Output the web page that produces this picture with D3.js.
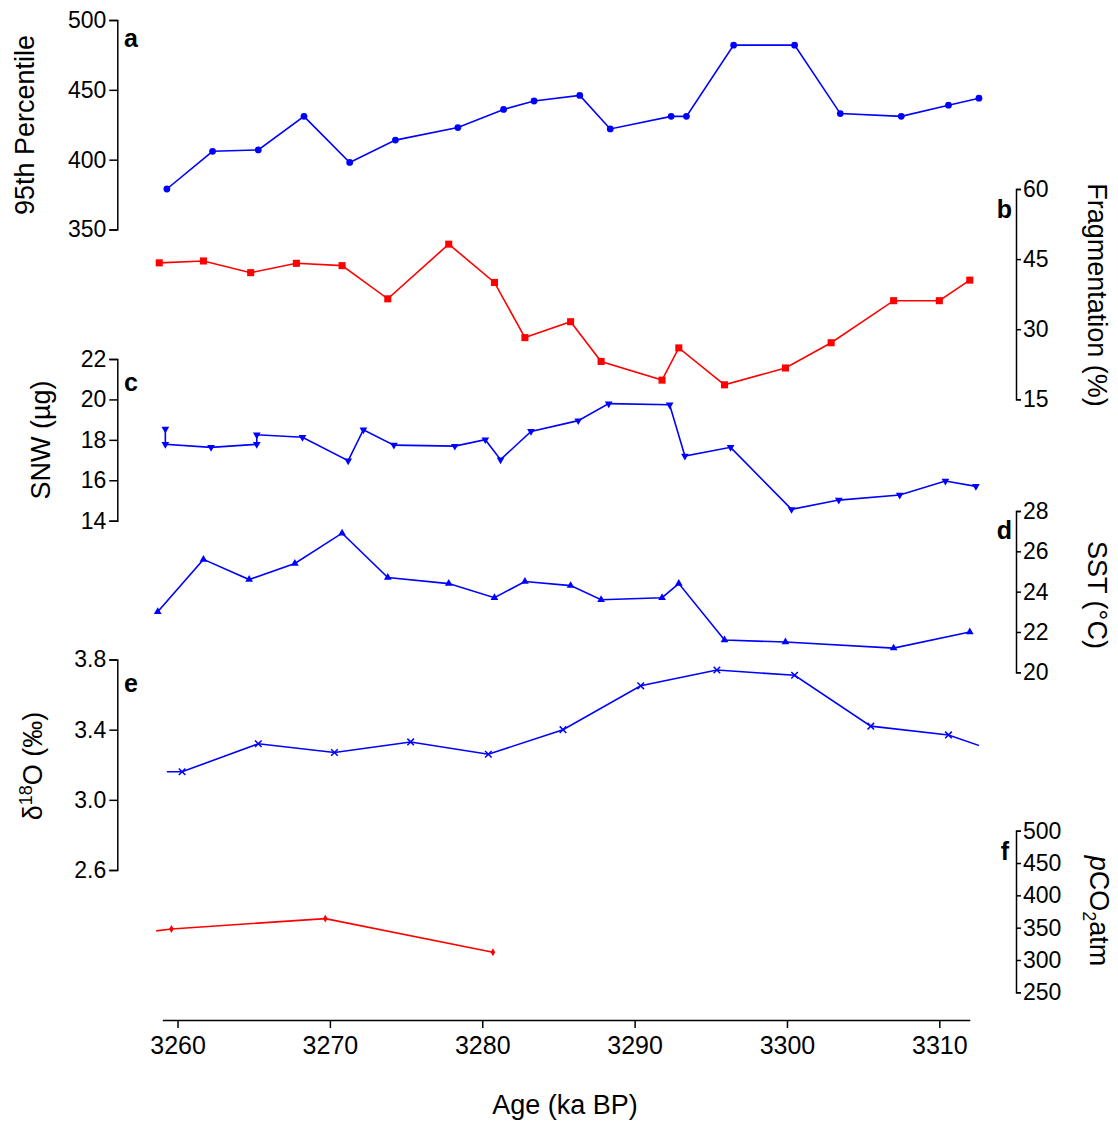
<!DOCTYPE html>
<html>
<head>
<meta charset="utf-8">
<script src="https://cdn.jsdelivr.net/npm/d3@7.9.0/dist/d3.min.js"></script>
<style>
  body { margin: 0; background: #fff; }
  svg { display: block; }
  text { font-family: "Liberation Sans", Arial, sans-serif; fill: #000; }
</style>
</head>
<body>
<svg id="chart" width="1118" height="1122"></svg>
<script>
// a: 95th percentile
const ageA = [3259.3, 3262.3, 3265.3, 3268.3, 3271.3, 3274.3, 3278.4, 3281.4, 3283.4, 3286.4,
              3288.4, 3292.4, 3293.4, 3296.5, 3300.5, 3303.5, 3307.5, 3310.6, 3312.6];
const pct95 = [379, 406, 407, 431, 398, 414, 423, 436, 442, 446, 422, 431, 431, 482, 482, 433, 431, 439, 444];

// b: fragmentation (%)
const ageB = [3258.8, 3261.7, 3264.8, 3267.8, 3270.8, 3273.8, 3277.8, 3280.8, 3282.8, 3285.8,
              3287.8, 3291.8, 3292.9, 3295.9, 3299.9, 3302.9, 3307.0, 3310.0, 3312.0];
const fragmentation = [44.2, 44.6, 42.1, 44.1, 43.6, 36.5, 48.2, 40.0, 28.2, 31.6,
                       23.1, 19.1, 26.0, 18.1, 21.7, 27.1, 36.1, 36.1, 40.5];

// c: SNW (µg)
const ageC = [3259.2, 3259.2, 3262.2, 3265.2, 3265.2, 3268.2, 3271.2, 3272.2, 3274.2, 3278.2, 3280.2, 3281.2,
              3283.2, 3286.3, 3288.3, 3292.3, 3293.3, 3296.3, 3300.3, 3303.4, 3307.4, 3310.4, 3312.4];
const snw = [18.54, 17.78, 17.63, 17.78, 18.25, 18.13, 16.97, 18.50, 17.74, 17.69, 18.01, 17.02,
             18.42, 18.95, 19.79, 19.74, 17.20, 17.63, 14.56, 15.02, 15.27, 15.96, 15.70];

// d: SST (°C)
const ageD = [3258.7, 3261.7, 3264.7, 3267.7, 3270.8, 3273.8, 3277.8, 3280.8, 3282.8, 3285.8,
              3287.8, 3291.8, 3292.9, 3295.9, 3299.9, 3307.0, 3312.0];
const sst = [23.0, 25.6, 24.6, 25.4, 26.9, 24.7, 24.4, 23.7, 24.5, 24.3, 23.6, 23.7, 24.4, 21.6, 21.5, 21.2, 22.0];

// e: d18O (first and last points lie outside the plotted window)
const ageE = [3255.0, 3260.3, 3265.3, 3270.3, 3275.3, 3280.4, 3285.3, 3290.4, 3295.4, 3300.5, 3305.5, 3310.6, 3315.6];
const d18o = [3.16, 3.16, 3.32, 3.27, 3.33, 3.26, 3.40, 3.65, 3.74, 3.71, 3.42, 3.37, 3.22];

// f: pCO2 atm (first point outside the window)
const ageF = [3255.6, 3259.6, 3269.7, 3280.7];
const pco2 = [336, 348, 364, 312];

const xTicks = [3260, 3270, 3280, 3290, 3300, 3310];
const ticksA = [350, 400, 450, 500];
const ticksB = [15, 30, 45, 60];
const ticksC = [14, 16, 18, 20, 22];
const ticksD = [20, 22, 24, 26, 28];
const ticksE = [2.6, 3.0, 3.4, 3.8];
const ticksF = [250, 300, 350, 400, 450, 500];

const svg = d3.select('#chart');
const blue = '#0000ff', red = '#ff0000';

const x = d3.scaleLinear().domain([3259, 3312]).range([162.3, 969.8]);

const leftX = 117.3, rightX = 1016;

const panels = [
  { id: 'a', ages: ageA, vals: pct95, domain: [350, 500], range: [229.5, 20], ticks: ticksA, side: 'left',
    color: blue, sym: d3.symbolCircle, size: 36 },
  { id: 'b', ages: ageB, vals: fragmentation, domain: [15, 60], range: [399.3, 189], ticks: ticksB, side: 'right',
    color: red, sym: d3.symbolSquare, size: 50 },
  { id: 'c', ages: ageC, vals: snw, domain: [14, 22], range: [520.7, 359], ticks: ticksC, side: 'left',
    color: blue, sym: d3.symbolTriangle, size: 26, flip: true },
  { id: 'd', ages: ageD, vals: sst, domain: [20, 28], range: [672.3, 511], ticks: ticksD, side: 'right',
    color: blue, sym: d3.symbolTriangle, size: 26 },
  { id: 'e', ages: ageE, vals: d18o, domain: [2.6, 3.8], range: [870, 659.5], ticks: ticksE, side: 'left',
    color: blue, sym: d3.symbolTimes, size: 30, stroke: true, clip: [3259.3, 3312.6], fmt: d3.format('.1f') },
  { id: 'f', ages: ageF, vals: pco2, domain: [250, 500], range: [992.3, 830.7], ticks: ticksF, side: 'right',
    color: red, sym: d3.symbolDiamond, size: 18, clip: [3258.6, 3313] }
];

const defs = svg.append('defs');

panels.forEach(p => {
  const y = d3.scaleLinear().domain(p.domain).range(p.range);

  // axis
  const axis = p.side === 'left'
    ? d3.axisLeft(y).tickSize(8).tickPadding(3)
    : d3.axisRight(y).tickSize(5).tickPadding(2);
  axis.tickValues(p.ticks);
  if (p.fmt) axis.tickFormat(p.fmt);
  const g = svg.append('g')
    .attr('transform', `translate(${p.side === 'left' ? leftX : rightX},0)`)
    .call(axis);
  g.selectAll('path, line').attr('stroke', '#000').attr('stroke-width', 1.5);
  g.selectAll('text').style('font-size', '23px').attr('fill', '#000');

  const pts = p.ages.map((a, i) => [a, p.vals[i]]);

  let holder = svg.append('g');
  if (p.clip) {
    defs.append('clipPath').attr('id', 'clip-' + p.id)
      .append('rect')
      .attr('x', x(p.clip[0])).attr('y', 0)
      .attr('width', x(p.clip[1]) - x(p.clip[0])).attr('height', 1122);
    holder.attr('clip-path', `url(#clip-${p.id})`);
  }

  holder.append('path')
    .datum(pts)
    .attr('fill', 'none')
    .attr('stroke', p.color)
    .attr('stroke-width', 1.6)
    .attr('d', d3.line().x(d => x(d[0])).y(d => y(d[1])));

  holder.selectAll('.m')
    .data(pts)
    .join('path')
    .attr('d', d3.symbol(p.sym, p.size))
    .attr('transform', d => `translate(${x(d[0])},${y(d[1])})${p.flip ? ' rotate(180)' : ''}`)
    .attr('fill', p.stroke ? 'none' : p.color)
    .attr('stroke', p.stroke ? p.color : 'none')
    .attr('stroke-width', 1.5);
});

// bottom axis
const xg = svg.append('g')
  .attr('transform', 'translate(0,1020)')
  .call(d3.axisBottom(x).tickValues(xTicks).tickSize(8).tickSizeOuter(0).tickPadding(8).tickFormat(d3.format('d')));
xg.selectAll('path, line').attr('stroke', '#000').attr('stroke-width', 1.5);
xg.selectAll('text').style('font-size', '25px').attr('fill', '#000');

svg.append('text')
  .attr('x', 565).attr('y', 1114)
  .attr('text-anchor', 'middle')
  .style('font-size', '27px')
  .text('Age (ka BP)');

// panel letters
const letters = [
  { t: 'a', x: 124, y: 47, anchor: 'start' },
  { t: 'c', x: 124, y: 391, anchor: 'start' },
  { t: 'e', x: 124, y: 692, anchor: 'start' },
  { t: 'b', x: 1012, y: 218, anchor: 'end' },
  { t: 'd', x: 1012, y: 539, anchor: 'end' },
  { t: 'f', x: 1009, y: 860, anchor: 'end' }
];
letters.forEach(l => {
  svg.append('text')
    .attr('x', l.x).attr('y', l.y)
    .attr('text-anchor', l.anchor)
    .style('font-size', '25px')
    .style('font-weight', 'bold')
    .text(l.t);
});

// y axis titles
function leftTitle(cx, cy) {
  return svg.append('text')
    .attr('transform', `translate(${cx},${cy}) rotate(-90)`)
    .attr('text-anchor', 'middle')
    .style('font-size', '27px');
}
function rightTitle(cx, cy) {
  return svg.append('text')
    .attr('transform', `translate(${cx},${cy}) rotate(90)`)
    .attr('text-anchor', 'middle')
    .style('font-size', '27px');
}

leftTitle(34, 125).text('95th Percentile');
leftTitle(50, 440).text('SNW (µg)');
const dt = leftTitle(42, 766);
dt.append('tspan').text('δ');
dt.append('tspan').attr('dy', -10).style('font-size', '18px').text('18');
dt.append('tspan').attr('dy', 10).text('O (‰)');

rightTitle(1088, 295).text('Fragmentation (%)');
rightTitle(1088, 595).text('SST (°C)');
const pt = rightTitle(1090, 911);
pt.append('tspan').style('font-style', 'italic').text('p');
pt.append('tspan').text('CO');
pt.append('tspan').attr('dy', 7).style('font-size', '18px').text('2');
pt.append('tspan').attr('dy', -7).text('atm');
</script>
</body>
</html>
